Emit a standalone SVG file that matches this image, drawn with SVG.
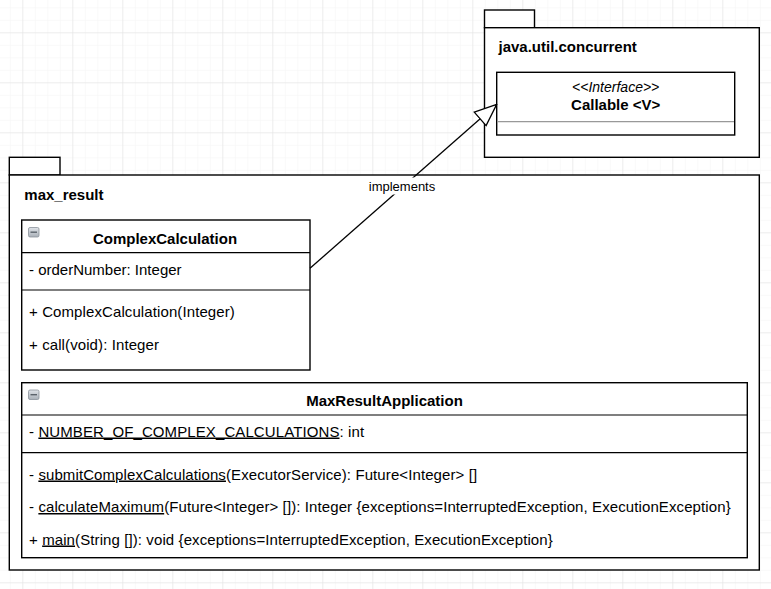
<svg xmlns="http://www.w3.org/2000/svg" width="771" height="589" viewBox="0 0 771 589">
<defs>
<pattern id="minor" x="-27.7" y="-17.7" width="12.5" height="12.5" patternUnits="userSpaceOnUse">
<path d="M0 0H12.5M0 0V12.5" fill="none" stroke="#f3f3f3" stroke-width="1"/>
</pattern>
<pattern id="major" x="-27.7" y="-17.7" width="50" height="50" patternUnits="userSpaceOnUse">
<path d="M0 0H50M0 0V50" fill="none" stroke="#e2e2e2" stroke-width="1"/>
</pattern>
<linearGradient id="icon" x1="0" y1="0" x2="0" y2="1">
<stop offset="0" stop-color="#dfe3e8"/>
<stop offset="1" stop-color="#a9b0b8"/>
</linearGradient>
<marker id="tri" viewBox="0 0 24 20" refX="23" refY="10" markerWidth="24" markerHeight="20" markerUnits="userSpaceOnUse" orient="auto">
<path d="M1 1L23 10L1 19Z" fill="#fff" stroke="#000" stroke-width="1.3"/>
</marker>
</defs>
<style>
.box{fill:#fff;stroke:#000;stroke-width:1.4}
.sep{stroke:#000;stroke-width:1.2}
.gsep{stroke:#999;stroke-width:1.2}
.t{font-family:"Liberation Sans",Arial,sans-serif;font-size:15px;fill:#000}
.b{font-weight:bold}
.c{text-anchor:middle}
.u{text-decoration:underline}
.w{letter-spacing:0.1px}
.icon{fill:url(#icon);stroke:#8a929b;stroke-width:0.8}
</style>
<rect width="771" height="589" fill="#fff"/>
<rect width="771" height="589" fill="url(#minor)"/>
<rect width="771" height="589" fill="url(#major)"/>

<g id="pkg-java-util-concurrent">
<rect class="box" x="484.5" y="10" width="50" height="17.7"/>
<rect class="box" x="484.5" y="27.7" width="274.8" height="129.6"/>
<text class="t b" x="498.5" y="51.5">java.util.concurrent</text>
</g>

<g id="node-callable">
<rect class="box" x="496.7" y="72.3" width="238" height="62.7"/>
<line class="gsep" x1="497.4" y1="121.7" x2="734" y2="121.7"/>
<text class="t c" x="615.7" y="92" font-style="italic" style="font-size:14px">&lt;&lt;Interface&gt;&gt;</text>
<text class="t b c" x="615.7" y="109.5">Callable &lt;V&gt;</text>
</g>

<g id="pkg-max-result">
<rect class="box" x="9.3" y="157.3" width="50.7" height="17.7"/>
<rect class="box" x="9.3" y="175" width="750" height="395"/>
<text class="t b" x="24.3" y="199.5">max_result</text>
</g>

<g id="node-complexcalculation">
<rect class="box" x="21.7" y="220" width="288.3" height="150"/>
<line class="sep" x1="21.7" y1="252.7" x2="310" y2="252.7"/>
<line class="sep" x1="21.7" y1="290" x2="310" y2="290"/>
<rect class="icon" x="28.5" y="227.5" width="10.5" height="9.5" rx="1.5"/>
<line x1="30.5" y1="232.2" x2="37" y2="232.2" stroke="#5b636b" stroke-width="1.4"/>
<text class="t b c" x="165" y="243.5">ComplexCalculation</text>
<text class="t" x="29" y="274.5">- orderNumber: Integer</text>
<text class="t w" x="29" y="317">+ ComplexCalculation(Integer)</text>
<text class="t w" x="29" y="349.5">+ call(void): Integer</text>
</g>

<g id="node-maxresultapplication">
<rect class="box" x="21.7" y="382.7" width="725.6" height="175"/>
<line class="sep" x1="21.7" y1="415" x2="747.3" y2="415"/>
<line class="sep" x1="21.7" y1="452.7" x2="747.3" y2="452.7"/>
<rect class="icon" x="28.5" y="390" width="10.5" height="9.5" rx="1.5"/>
<line x1="30.5" y1="394.7" x2="37" y2="394.7" stroke="#5b636b" stroke-width="1.4"/>
<text class="t b c" x="384.5" y="406">MaxResultApplication</text>
<text class="t w" x="29" y="436.5">- <tspan class="u">NUMBER_OF_COMPLEX_CALCULATIONS</tspan>: int</text>
<text class="t w" x="29" y="479.5">- <tspan class="u">submitComplexCalculations</tspan>(ExecutorService): Future&lt;Integer&gt; []</text>
<text class="t w" x="29" y="512">- <tspan class="u">calculateMaximum</tspan>(Future&lt;Integer&gt; []): Integer {exceptions=InterruptedException, ExecutionException}</text>
<text class="t w" x="29" y="544.5">+ <tspan class="u">main</tspan>(String []): void {exceptions=InterruptedException, ExecutionException}</text>
</g>

<g id="connectors">
<line x1="310" y1="268.3" x2="496.7" y2="104.3" stroke="#000" stroke-width="1.3" marker-end="url(#tri)"/>
<rect x="366" y="177.5" width="72" height="17" fill="#fff"/>
<text class="t c" x="402" y="190.5" style="font-size:13px">implements</text>
</g>
</svg>
